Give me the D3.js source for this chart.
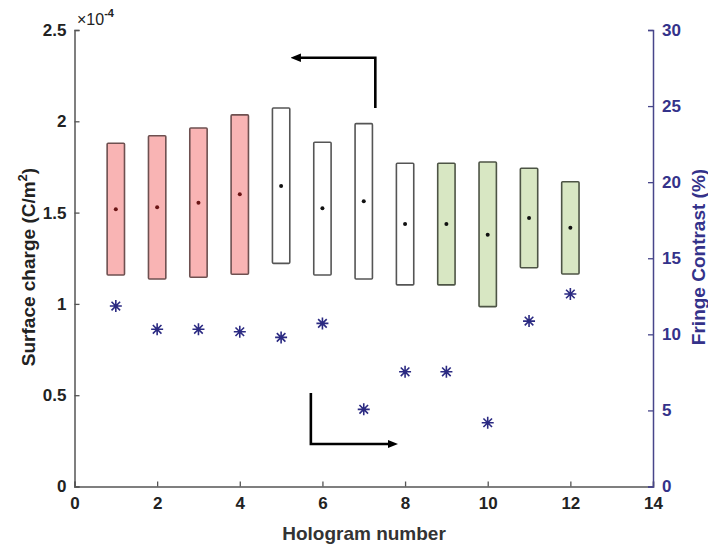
<!DOCTYPE html>
<html>
<head>
<meta charset="utf-8">
<script src="https://cdn.jsdelivr.net/npm/d3@7"></script>
<style>
  body { margin: 0; background: #fff; }
  svg { display: block; font-family: "Liberation Sans", Arial, Helvetica, sans-serif; font-weight: bold; }
</style>
</head>
<body>
<svg id="chart" width="708" height="548"></svg>
<script>
// Hologram index
const holograms = [1, 2, 3, 4, 5, 6, 7, 8, 9, 10, 11, 12];
// Surface charge range per hologram (units of 1e-4 C/m^2)
const chargeMin  = [1.158, 1.136, 1.146, 1.162, 1.222, 1.158, 1.136, 1.104, 1.104, 0.985, 1.198, 1.164];
const chargeMax  = [1.880, 1.921, 1.963, 2.035, 2.073, 1.885, 1.987, 1.770, 1.770, 1.777, 1.743, 1.669];
const chargeMean = [1.518, 1.529, 1.554, 1.600, 1.646, 1.524, 1.562, 1.438, 1.438, 1.379, 1.470, 1.417];
// Group of each hologram: fill colour class
const groups = ["a", "a", "a", "a", "b", "b", "b", "b", "c", "c", "c", "c"];
// Fringe contrast (%) per hologram
const contrast = [11.86, 10.33, 10.33, 10.17, 9.80, 10.72, 5.07, 7.54, 7.54, 4.19, 10.87, 12.65];

// Tick values
const xTicks = [0, 2, 4, 6, 8, 10, 12, 14];
const yLeftTicks = [0, 0.5, 1, 1.5, 2, 2.5];
const yRightTicks = [0, 5, 10, 15, 20, 25, 30];

// Annotation arrows (data coordinates on x / left y axes)
const arrowUp = [[7.28, 2.073], [7.28, 2.348], [5.43, 2.348]];
const arrowDown = [[5.72, 0.512], [5.72, 0.233], [7.63, 0.233]];

const fills = { a: "#f9b4b4", b: "#ffffff", c: "#d8e7c3" };
const strokes = { a: "#6e5050", b: "#555555", c: "#4d5445" };
const dotColors = { a: "#6a1515", b: "#111111", c: "#111111" };
const navy = "#2b2a82";
const axisNavy = "#47458a";

const svg = d3.select("#chart");
const L = 74.5, R = 653, T = 30, B = 486.5;

const x = d3.scaleLinear().domain([0, 14]).range([L, R]);
const yL = d3.scaleLinear().domain([0, 2.5]).range([B, T]);
const yR = d3.scaleLinear().domain([0, 30]).range([B, T]);

// Arrowhead marker
svg.append("defs").append("marker")
  .attr("id", "head").attr("viewBox", "0 0 10 10")
  .attr("refX", 2).attr("refY", 5)
  .attr("markerWidth", 4).attr("markerHeight", 4)
  .attr("orient", "auto")
  .append("path").attr("d", "M0,1 L10,5 L0,9 Z").attr("fill", "#000");

// Range bars
const bw = 0.42;
svg.append("g").selectAll("rect").data(holograms).join("rect")
  .attr("x", (d) => x(d - bw / 2))
  .attr("width", x(bw) - x(0))
  .attr("y", (d, i) => yL(chargeMax[i]))
  .attr("height", (d, i) => yL(chargeMin[i]) - yL(chargeMax[i]))
  .attr("rx", 1)
  .attr("fill", (d, i) => fills[groups[i]])
  .attr("stroke", (d, i) => strokes[groups[i]])
  .attr("stroke-width", 1.6);

// Mean dots
svg.append("g").selectAll("circle").data(holograms).join("circle")
  .attr("cx", (d) => x(d))
  .attr("cy", (d, i) => yL(chargeMean[i]))
  .attr("r", 2)
  .attr("fill", (d, i) => dotColors[groups[i]]);

// Fringe contrast asterisks
const star = svg.append("g").attr("stroke", navy).attr("stroke-width", 1.6).attr("fill", "none");
holograms.forEach((h, i) => {
  const cx = x(h), cy = yR(contrast[i]), s = 6, d = 4.3;
  star.append("path").attr("d",
    `M${cx - s},${cy}L${cx + s},${cy}M${cx},${cy - s}L${cx},${cy + s}` +
    `M${cx - d},${cy - d}L${cx + d},${cy + d}M${cx - d},${cy + d}L${cx + d},${cy - d}`);
});

// Arrows
const line = d3.line().x((p) => x(p[0])).y((p) => yL(p[1]));
[arrowUp, arrowDown].forEach((pts) => {
  svg.append("path").attr("d", line(pts))
    .attr("fill", "none").attr("stroke", "#000").attr("stroke-width", 2.6)
    .attr("marker-end", "url(#head)");
});

// Bottom axis
const gx = svg.append("g").attr("transform", `translate(0,${B})`)
  .call(d3.axisBottom(x).tickValues(xTicks).tickSize(-5).tickPadding(10).tickFormat(d3.format("d")));
gx.select(".domain").attr("stroke", "#555").attr("stroke-width", 1.5);
gx.selectAll(".tick line").attr("stroke", "#555").attr("stroke-width", 1.3);
gx.selectAll(".tick text").attr("fill", "#222").attr("font-size", 17).attr("font-family", null);

// Left axis
const gl = svg.append("g").attr("transform", `translate(${L},0)`)
  .call(d3.axisLeft(yL).tickValues(yLeftTicks).tickSize(-5).tickPadding(8).tickFormat((d) => String(d)));
gl.select(".domain").attr("stroke", "#555").attr("stroke-width", 1.5);
gl.selectAll(".tick line").attr("stroke", "#555").attr("stroke-width", 1.3);
gl.selectAll(".tick text").attr("fill", "#222").attr("font-size", 17).attr("font-family", null);

// Right axis
const gr = svg.append("g").attr("transform", `translate(${R},0)`)
  .call(d3.axisRight(yR).tickValues(yRightTicks).tickSize(-5).tickPadding(9).tickFormat(d3.format("d")));
gr.select(".domain").attr("stroke", axisNavy).attr("stroke-width", 1.5);
gr.selectAll(".tick line").attr("stroke", axisNavy).attr("stroke-width", 1.3);
gr.selectAll(".tick text").attr("fill", "#34328a").attr("font-size", 17).attr("font-family", null);

// Exponent label
const ex = svg.append("text").attr("x", 77).attr("y", 25).attr("font-size", 16).attr("font-weight", "normal").attr("fill", "#222");
ex.append("tspan").text("×10");
ex.append("tspan").attr("dy", -8).attr("font-size", 11).attr("font-weight", "bold").text("-4");

// Axis titles
svg.append("text").attr("x", 364).attr("y", 540).attr("text-anchor", "middle")
  .attr("font-size", 19).attr("fill", "#333").text("Hologram number");

const lt = svg.append("text").attr("transform", "translate(35,267) rotate(-90)")
  .attr("text-anchor", "middle").attr("font-size", 19).attr("fill", "#222");
lt.append("tspan").text("Surface charge (C/m");
lt.append("tspan").attr("dy", -8).attr("font-size", 13).text("2");
lt.append("tspan").attr("dy", 8).text(")");

svg.append("text").attr("transform", "translate(705,257) rotate(-90)")
  .attr("text-anchor", "middle").attr("font-size", 19).attr("fill", "#34328a")
  .text("Fringe Contrast (%)");
</script>
</body>
</html>
